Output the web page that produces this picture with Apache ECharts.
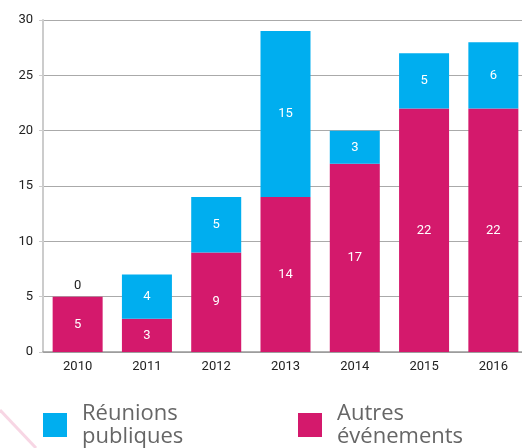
<!DOCTYPE html>
<html>
<head>
<meta charset="utf-8">
<script src="https://cdn.jsdelivr.net/npm/echarts@6/dist/echarts.min.js"></script>
<style>
  html, body { margin: 0; padding: 0; background: #fff; }
  #chart { width: 522px; height: 448px; }
</style>
</head>
<body>
<div id="chart"></div>
<script>
// Yearly counts, stacked: other events at the bottom, public meetings on top
const years = ['2010', '2011', '2012', '2013', '2014', '2015', '2016'];
const autresEvenements = [5, 3, 9, 14, 17, 22, 22];
const reunionsPubliques = [0, 4, 5, 15, 3, 5, 6];
const yTicks = [0, 5, 10, 15, 20, 25, 30];

const CYAN = '#00AEEF';
const MAGENTA = '#D4196C';
const FONT = 'Roboto, "Noto Sans", sans-serif';
const LEGEND_FONT = '"Open Sans", Roboto, sans-serif';

const chart = echarts.init(document.getElementById('chart'), null, { renderer: 'canvas' });

// Zero-height segments get their label above the stack in dark text
const reunionsData = reunionsPubliques.map(v => v === 0
  ? { value: v, label: { position: 'top', color: '#222', distance: 4 } }
  : v);

const legendText = { fontSize: 22, color: '#666', lineHeight: 23, padding: [0, 0, 0, 10], fontFamily: LEGEND_FONT };

chart.setOption({
  animation: false,
  textStyle: { fontFamily: FONT },
  // the last column runs slightly past the right edge of the canvas
  grid: { left: 43, width: 485, top: 20, height: 332, outerBoundsMode: 'none', containLabel: false },
  legend: [
    {
      left: 43, top: 402, padding: 0,
      data: ['Réunions publiques'],
      icon: 'rect', itemWidth: 24, itemHeight: 24, itemGap: 0,
      formatter: () => 'Réunions\npubliques',
      textStyle: legendText
    },
    {
      left: 298, top: 402, padding: 0,
      data: ['Autres événements'],
      icon: 'rect', itemWidth: 24, itemHeight: 24, itemGap: 0,
      formatter: () => 'Autres\névénements',
      textStyle: legendText
    }
  ],
  xAxis: {
    type: 'category',
    data: years,
    axisLine: { lineStyle: { color: '#999', width: 1.5 } },
    axisTick: { inside: true, length: 8, lineStyle: { color: '#bbb', width: 1.5 } },
    axisLabel: { color: '#222', fontSize: 13, margin: 8, fontFamily: FONT }
  },
  yAxis: {
    type: 'value',
    min: yTicks[0], max: yTicks[yTicks.length - 1], interval: 5,
    axisLine: { show: true, lineStyle: { color: '#ccc', width: 2 } },
    axisTick: { show: true, length: 4, lineStyle: { color: '#ccc' } },
    axisLabel: { color: '#222', fontSize: 13, margin: 10, fontFamily: FONT },
    splitLine: { lineStyle: { color: '#aaa', width: 1 } }
  },
  series: [
    {
      name: 'Autres événements',
      type: 'bar', stack: 'total',
      data: autresEvenements,
      barWidth: 50,
      itemStyle: { color: MAGENTA },
      label: { show: true, position: 'inside', color: '#fff', fontSize: 13, fontFamily: FONT }
    },
    {
      name: 'Réunions publiques',
      type: 'bar', stack: 'total',
      data: reunionsData,
      barWidth: 50,
      itemStyle: { color: CYAN },
      label: { show: true, position: 'inside', color: '#fff', fontSize: 13, fontFamily: FONT }
    }
  ],
  graphic: [
    {
      type: 'line',
      shape: { x1: 0, y1: 410, x2: 36, y2: 448 },
      style: { stroke: 'rgba(212, 25, 108, 0.18)', lineWidth: 3 },
      silent: true
    }
  ]
});
</script>
</body>
</html>
